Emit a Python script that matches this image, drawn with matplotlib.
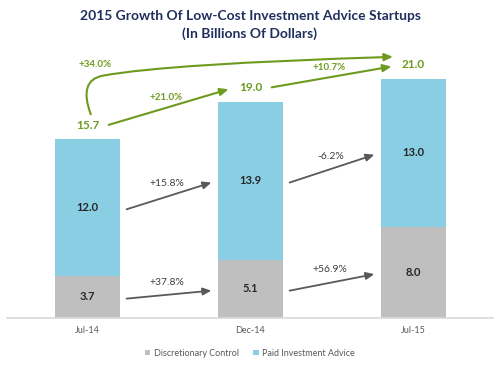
import matplotlib

matplotlib.use("Agg")
import matplotlib.pyplot as plt
import numpy as np
from matplotlib.patches import FancyArrowPatch
from matplotlib.path import Path

# values
categories = ["Jul-14", "Dec-14", "Jul-15"]
discretionary = [3.7, 5.1, 8.0]
paid = [12.0, 13.9, 13.0]
totals = [15.7, 19.0, 21.0]
disc_growth = ["+37.8%", "+56.9%"]
paid_growth = ["+15.8%", "-6.2%"]
total_growth = ["+21.0%", "+10.7%"]
overall_growth = "+34.0%"

GRAY = "#BFBFBF"
BLUE = "#89CEE3"
GREEN = "#6E9B1F"
ARROW = "#595959"
NAVY = "#1F2F5E"

plt.rcParams["font.family"] = ["Lato", "DejaVu Sans"]

fig = plt.figure(figsize=(5, 3.68), dpi=100)
ax = fig.add_axes([0.014, 0.136, 0.972, 0.742])

x = np.arange(len(categories))
disc = np.array(discretionary)
pd_ = np.array(paid)
b1 = ax.bar(x, disc, width=0.4, color=GRAY, label="Discretionary Control")
b2 = ax.bar(x, pd_, width=0.4, bottom=disc, color=BLUE, label="Paid Investment Advice")

ax.set_xlim(-0.494, 2.488)
ax.set_ylim(0, 24)
ax.set_yticks([])
ax.set_xticks(x)
ax.set_xticklabels(categories, fontsize=6.5, color=ARROW)
ax.tick_params(axis="x", length=0, pad=6)
for s in ("left", "right", "top"):
    ax.spines[s].set_visible(False)
ax.spines["bottom"].set_color("#D9D9D9")
ax.spines["bottom"].set_linewidth(1.2)

# segment values
for i in x:
    ax.text(i, disc[i] / 2, f"{disc[i]:.1f}", ha="center", va="center",
            fontsize=8, fontweight="bold", color="#262626")
    ax.text(i, disc[i] + pd_[i] / 2, f"{pd_[i]:.1f}", ha="center", va="center",
            fontsize=8, fontweight="bold", color="#262626")
    ax.text(i, totals[i] + 1.25, f"{totals[i]:.1f}", ha="center", va="center",
            fontsize=8.5, fontweight="bold", color=GREEN)

gray_kw = dict(arrowstyle="-|>,head_length=0.5,head_width=0.22", color=ARROW,
               lw=1.3, shrinkA=0, shrinkB=0)
green_kw = dict(arrowstyle="-|>,head_length=0.5,head_width=0.22", color=GREEN,
                lw=1.5, shrinkA=0, shrinkB=0)

# segment-to-segment growth arrows
for i in range(len(categories) - 1):
    for ys, ye, lab in ((disc[i] / 2, disc[i + 1] / 2, disc_growth[i]),
                        (disc[i] + pd_[i] / 2, disc[i + 1] + pd_[i + 1] / 2, paid_growth[i])):
        y0, y1 = ys - 0.15, ye - 0.15
        ax.annotate("", xy=(i + 0.76, y1), xytext=(i + 0.24, y0), arrowprops=gray_kw)
        ax.text(i + 0.49, (y0 + y1) / 2 + 1.1, lab, ha="center", va="center",
                fontsize=7.5, color="#404040")

# total growth arrows
for i in range(len(categories) - 1):
    y0, y1 = totals[i] + 1.27, totals[i + 1] + 1.1
    ax.annotate("", xy=(i + 0.865, y1), xytext=(i + 0.13, y0), arrowprops=green_kw)
    ax.text(i + 0.485, (y0 + y1) / 2 + 0.85, total_growth[i], ha="center",
            va="center", fontsize=7, fontweight="bold", color=GREEN)

# overall growth: curved connector from first total to last total
ys, ye = totals[0] + 2.2, totals[-1] + 1.95
verts = [(0.02, ys), (-0.058, ys + 3.0), (0.095, ys + 3.4),
         (0.5, ye - 0.6), (1.874, ye)]
codes = [Path.MOVETO, Path.CURVE3, Path.CURVE3, Path.CURVE3, Path.CURVE3]
big = FancyArrowPatch(path=Path(verts, codes), arrowstyle=green_kw["arrowstyle"],
                      color=GREEN, lw=1.5, mutation_scale=10, clip_on=False)
ax.add_patch(big)
ax.text(0.048, 22.3, overall_growth, ha="center", va="center", fontsize=7,
        fontweight="bold", color=GREEN)

fig.text(0.5, 0.956, "2015 Growth Of Low-Cost Investment Advice Startups",
         ha="center", va="center", fontsize=10, fontweight="bold", color=NAVY)
fig.text(0.5, 0.908, "(In Billions Of Dollars)", ha="center", va="center",
         fontsize=10, fontweight="bold", color=NAVY)

fig.legend(handles=[b1, b2], loc="center", bbox_to_anchor=(0.5, 0.04), ncol=2,
           frameon=False, fontsize=6.5, labelcolor=ARROW, handlelength=0.6,
           handleheight=0.6, handletextpad=0.4, columnspacing=1.6)

fig.savefig("out.png", dpi=100)
